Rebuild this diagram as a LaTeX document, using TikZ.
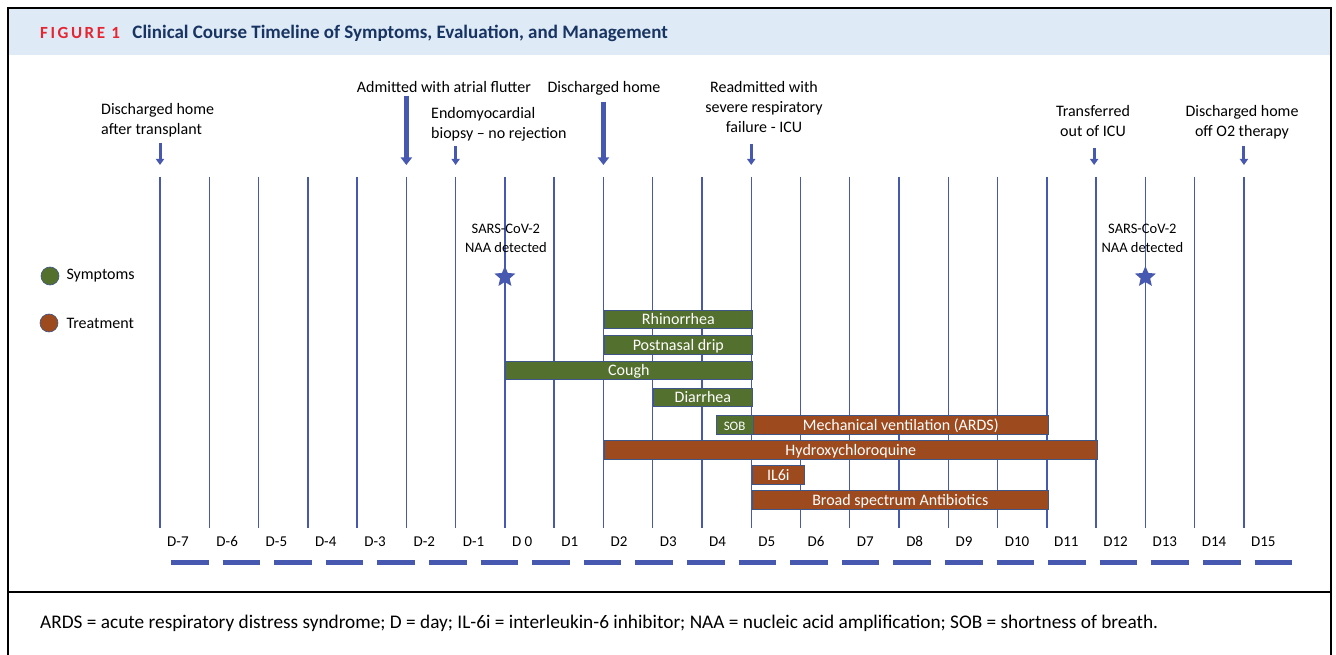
\documentclass[tikz,border=0pt]{standalone}
\usepackage{fontspec}
\setmainfont{Carlito}
\usepackage{tikz}
\usetikzlibrary{arrows.meta, positioning, shapes.geometric}

\definecolor{dayblue}{RGB}{70,88,176}
\definecolor{symgreen}{RGB}{84,112,46}
\definecolor{txbrown}{RGB}{156,74,30}
\definecolor{barline}{RGB}{62,86,136}
\definecolor{bandblue}{RGB}{222,234,246}
\definecolor{titlenavy}{RGB}{24,52,98}
\definecolor{tagred}{RGB}{228,38,50}

\begin{document}
\begin{tikzpicture}[
    x=1pt, y=-1pt,
    dayline/.style={draw=dayblue, line width=1.4pt},
    daylabel/.style={anchor=base west, inner sep=0pt, font=\fontsize{15}{18}\selectfont},
    event/.style={inner sep=0pt, font=\fontsize{16}{20}\selectfont},
    evarrow/.style={draw=dayblue, line width=3pt, -{Triangle[width=8pt, length=6pt]}},
    bigarrow/.style={evarrow, line width=5pt, -{Triangle[width=11pt, length=7.5pt]}},
    bar/.style={draw=barline, line width=0.7pt, anchor=west, inner sep=0pt,
                minimum height=18.5pt, text=white, text height=12pt, text depth=2pt,
                font=\fontsize{16}{16}\selectfont},
    symbar/.style={bar, fill=symgreen},
    txbar/.style={bar, fill=txbrown},
    naastar/.style={star, star points=5, star point ratio=2.2, fill=dayblue,
                    inner sep=0pt, minimum size=22pt},
    naa/.style={inner sep=0pt, align=center, font=\fontsize{14.5}{19}\selectfont},
    legdot/.style={circle, draw=barline, line width=0.6pt, inner sep=0pt, minimum size=18pt},
    legtext/.style={inner sep=0pt, font=\fontsize{16}{18}\selectfont}
]
\useasboundingbox (0,0) rectangle (1336,655);

% header band and frame
\fill[bandblue] (9,9) rectangle (1329.5,55);
\draw[line width=2pt] (8,670) -- (8,8) -- (1330.5,8) -- (1330.5,670);
\draw[line width=1.2pt] (8,592) -- (1330.5,592);
\node[anchor=west, inner sep=0pt, text=tagred,
      font=\fontsize{17}{18}\selectfont\bfseries\addfontfeature{LetterSpace=15}]
      (ftag) at (40,33) {FIGURE 1};
\node[right=12pt of ftag, inner sep=0pt, text=titlenavy,
      font=\fontsize{19}{20}\selectfont\bfseries]
      (ftitle) {Clinical Course Timeline of Symptoms, Evaluation, and Management};

% day grid
\foreach \lbl [count=\i from 0] in {D-7,D-6,D-5,D-4,D-3,D-2,D-1,D 0,D1,D2,D3,D4,
                                     D5,D6,D7,D8,D9,D10,D11,D12,D13,D14,D15} {
  \pgfmathsetmacro\xx{160+49.27*\i}
  \coordinate (d\i) at (\xx,177);
  \draw[dayline] (d\i) -- (\xx,528);
  \node[daylabel] (l\i) at (\xx+7,546.5) {\lbl};
}
\coordinate (axisL) at (171,562);
\coordinate (axisR) at (1293.5,562);
\draw[dayblue, line width=5pt, dash pattern=on 37.5pt off 14.1pt] (axisL) -- (axisR);

% events
\node[event, anchor=north west, align=left] (evtx) at (101,103) {Discharged home\\after transplant};
\draw[evarrow] ([yshift=34pt]d0) -- ([yshift=12pt]d0);
\node[event, anchor=north] (evaf) at (444,81) {Admitted with atrial flutter};
\draw[bigarrow] ([yshift=81pt]d5) -- ([yshift=12pt]d5);
\node[event, anchor=north west, align=left] (evbx) at (431,107) {Endomyocardial\\biopsy -- no rejection};
\draw[evarrow] ([yshift=31pt]d6) -- ([yshift=12pt]d6);
\node[event, anchor=north] (evdh) at (604,81) {Discharged home};
\draw[bigarrow] ([yshift=75pt]d9) -- ([yshift=12pt]d9);
\node[event, anchor=north, align=center] (evra) at (764,81) {Readmitted with\\severe respiratory\\failure - ICU};
\draw[evarrow] ([yshift=33pt]d12) -- ([yshift=12pt]d12);
\node[event, anchor=north, align=center] (evto) at (1093,105) {Transferred\\out of ICU};
\draw[evarrow] ([yshift=29pt,xshift=-2pt]d19) -- ([yshift=12pt,xshift=-2pt]d19);
\node[event, anchor=north, align=center] (evdo) at (1242,105) {Discharged home\\off O2 therapy};
\draw[evarrow] ([yshift=31pt]d22) -- ([yshift=12pt]d22);

% positive tests
\node[naastar] (naa1) at ([yshift=-100pt]d7) {};
\node[naa, above=13pt of naa1, xshift=1pt] {SARS-CoV-2\\NAA detected};
\node[naastar] (naa2) at ([yshift=-100pt]d20) {};
\node[naa, above=13pt of naa2, xshift=-3pt] {SARS-CoV-2\\NAA detected};

% legend
\node[legdot, fill=symgreen] (lgsym) at (50,276) {};
\node[legtext, right=7pt of lgsym] {Symptoms};
\node[legdot, fill=txbrown] (lgtx) at (49,323) {};
\node[legtext, right=8pt of lgtx] {Treatment};

% symptom bars
\node[symbar, minimum width=148pt] (rhino) at (604,319.5) {Rhinorrhea};
\node[symbar, minimum width=148pt] (drip) at (604,345) {Postnasal drip};
\node[symbar, minimum width=247pt] (cough) at (505,370.5) {Cough};
\node[symbar, minimum width=99pt] (diarr) at (653,397.5) {Diarrhea};
\node[symbar, minimum width=37.5pt, font=\fontsize{13}{13}\selectfont] (sob) at (715.5,425) {SOB};

% treatment bars
\node[txbar, minimum width=295pt] (mv) at (753,425) {Mechanical ventilation (ARDS)};
\node[txbar, minimum width=493pt] (hcq) at (604,450) {Hydroxychloroquine};
\node[txbar, minimum width=52pt] (il6) at (752,475) {IL6i};
\node[txbar, minimum width=296pt] (abx) at (752,500) {Broad spectrum Antibiotics};

% abbreviations
\node[anchor=west, inner sep=0pt, font=\fontsize{19.3}{20}\selectfont] (abbr) at (40,623)
  {ARDS = acute respiratory distress syndrome; D = day; IL-6i = interleukin-6 inhibitor; NAA = nucleic acid amplification; SOB = shortness of breath.};
\end{tikzpicture}
\end{document}
